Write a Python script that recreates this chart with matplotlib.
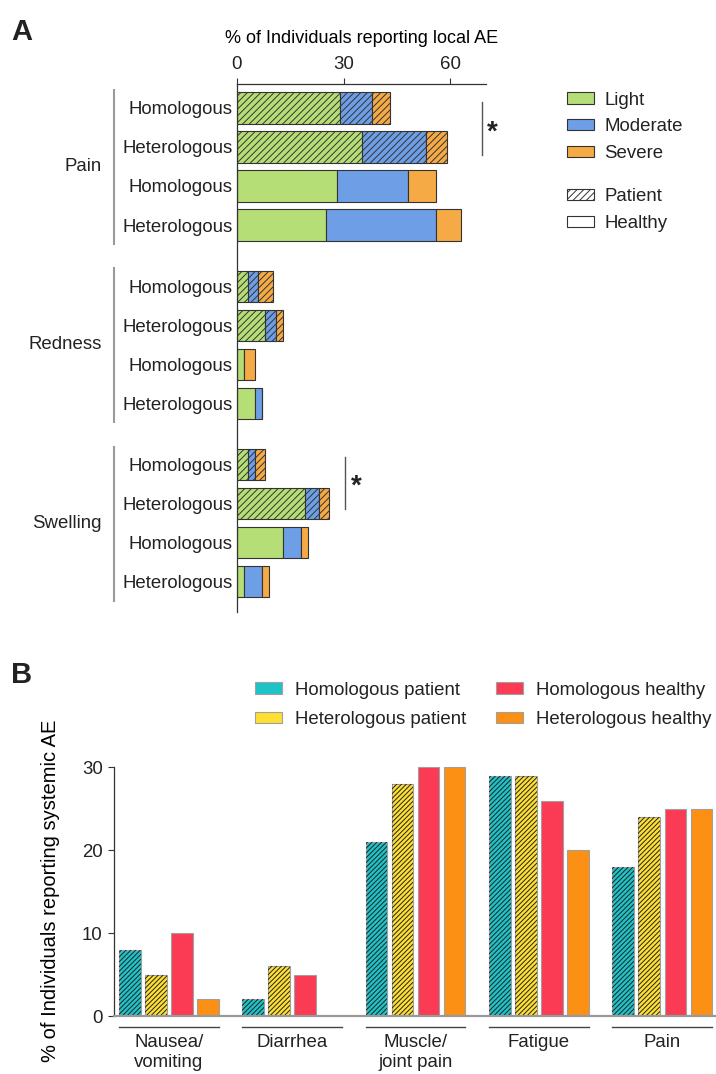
import numpy as np
import matplotlib.pyplot as plt
from matplotlib.patches import Patch
from matplotlib import transforms

plt.rcParams['font.family'] = ['Liberation Sans', 'DejaVu Sans']
plt.rcParams['font.size'] = 13.4
plt.rcParams['text.color'] = '#222222'
plt.rcParams['xtick.color'] = '#333333'
plt.rcParams['ytick.color'] = '#333333'
plt.rcParams['xtick.labelcolor'] = '#222222'
plt.rcParams['ytick.labelcolor'] = '#222222'
plt.rcParams['hatch.linewidth'] = 0.7

# ---- panel A: local adverse events (rows: hom patient, het patient, hom healthy, het healthy)
symptoms = ["Pain", "Redness", "Swelling"]
row_labels = ["Homologous", "Heterologous", "Homologous", "Heterologous"]
patient_rows = [True, True, False, False]
light = [29, 35, 28, 25, 3, 8, 2, 5, 3, 19, 13, 2]
moderate = [9, 18, 20, 31, 3, 3, 0, 2, 2, 4, 5, 5]
severe = [5, 6, 8, 7, 4, 2, 3, 0, 3, 3, 2, 2]
severity_names = ["Light", "Moderate", "Severe"]
severity_colors = ["#b6de76", "#6e9ee6", "#f5aa46"]

# ---- panel B: systemic adverse events
categories = ["Nausea/\nvomiting", "Diarrhea", "Muscle/\njoint pain", "Fatigue", "Pain"]
hom_patient = [8, 2, 21, 29, 18]
het_patient = [5, 6, 28, 29, 24]
hom_healthy = [10, 5, 30, 26, 25]
het_healthy = [2, 0, 30, 20, 25]
group_names = ["Homologous patient", "Heterologous patient",
               "Homologous healthy", "Heterologous healthy"]
group_colors = ["#1ec3c8", "#fedf32", "#fb3a54", "#fb9014"]
group_hatched = [True, True, False, False]

fig = plt.figure(figsize=(7.16, 10.74), dpi=100)

# ================= A =================
axA = fig.add_axes([0.331, 0.4302, 0.3478, 0.4916])
gap = 4.57
ypos = np.array([g * gap + r for g in range(len(symptoms)) for r in range(4)])
pat = np.array([patient_rows[i % 4] for i in range(len(ypos))])

left = np.zeros(len(ypos))
for vals, col in zip([light, moderate, severe], severity_colors):
    vals = np.array(vals, dtype=float)
    axA.barh(ypos[pat], vals[pat], left=left[pat], height=0.8, color=col,
             edgecolor='#333333', linewidth=0.8, hatch='/////')
    axA.barh(ypos[~pat], vals[~pat], left=left[~pat], height=0.8, color=col,
             edgecolor='#333333', linewidth=0.8)
    left += vals

axA.set_xlim(0, 70)
axA.set_ylim(12.92, -0.615)
axA.xaxis.tick_top()
axA.xaxis.set_label_position('top')
axA.set_xticks([0, 30, 60])
axA.tick_params(axis='x', length=4, width=0.8, pad=4)
axA.set_xlabel("% of Individuals reporting local AE", labelpad=9, fontsize=13)
axA.set_yticks(ypos)
axA.set_yticklabels(row_labels * len(symptoms))
axA.tick_params(axis='y', length=0, pad=3)
for s in ['right', 'bottom']:
    axA.spines[s].set_visible(False)
for s in ['top', 'left']:
    axA.spines[s].set_color('#333333')
    axA.spines[s].set_linewidth(0.9)

blend = transforms.blended_transform_factory(axA.transAxes, axA.transData)
for g, name in enumerate(symptoms):
    base = g * gap
    axA.plot([-0.494, -0.494], [base - 0.46, base + 3.49], transform=blend,
             clip_on=False, color='#9a9a9a', lw=1.5)
    axA.text(-0.542, base + 1.5, name, transform=blend, ha='right', va='center')

# significance markers
axA.plot([68.9, 68.9], [-0.16, 1.2], color='#555555', lw=1, clip_on=False)
axA.text(71.9, 0.62, '*', fontsize=20, fontweight='bold', ha='center',
         va='center', clip_on=False)
axA.plot([30.4, 30.4], [2 * gap - 0.2, 2 * gap + 1.15], color='#555555', lw=1, clip_on=False)
axA.text(33.4, 2 * gap + 0.56, '*', fontsize=20, fontweight='bold', ha='center',
         va='center', clip_on=False)

sev_handles = [Patch(facecolor=c, edgecolor='#333333', linewidth=0.8) for c in severity_colors]
legA1 = fig.legend(sev_handles, severity_names, loc='upper left',
                   bbox_to_anchor=(0.792, 0.9147), frameon=False, borderpad=0,
                   borderaxespad=0, handlelength=1.45, handleheight=0.54,
                   handletextpad=0.54, labelspacing=0.52)
pat_handles = [Patch(facecolor='white', edgecolor='#333333', linewidth=0.8, hatch='/////'),
               Patch(facecolor='white', edgecolor='#333333', linewidth=0.8)]
legA2 = fig.legend(pat_handles, ["Patient", "Healthy"], loc='upper left',
                   bbox_to_anchor=(0.792, 0.8247), frameon=False, borderpad=0,
                   borderaxespad=0, handlelength=1.45, handleheight=0.54,
                   handletextpad=0.54, labelspacing=0.52)

fig.text(0.016, 0.983, "A", fontsize=21, fontweight='bold', va='top')

# ================= B =================
axB = fig.add_axes([0.159, 0.054, 0.841, 0.2337])
x = np.arange(len(categories))
step = 0.211
width = 0.174
series = [hom_patient, het_patient, hom_healthy, het_healthy]
for k, (vals, col, hat) in enumerate(zip(series, group_colors, group_hatched)):
    xs = x + (k - 1.5) * step
    axB.bar(xs, vals, width=width, color=col, edgecolor='#a0a0a0', linewidth=0.8)
    if hat:
        axB.bar(xs, vals, width=width, color='none', edgecolor='#222222',
                linewidth=0, hatch='///////')

axB.set_xlim(-0.446, 4.436)
axB.set_ylim(0, 30.3)
axB.set_yticks([0, 10, 20, 30])
axB.spines['left'].set_bounds(0, 30)
axB.spines['left'].set_color('#333333')
axB.spines['left'].set_linewidth(0.9)
axB.spines['bottom'].set_color('#999999')
axB.spines['bottom'].set_linewidth(1.6)
for s in ['right', 'top']:
    axB.spines[s].set_visible(False)
axB.tick_params(axis='y', length=4.3, width=0.8, pad=3.6)
axB.set_xticks([])
axB.set_ylabel("% of Individuals reporting systemic AE", fontsize=14.5)
axB.yaxis.set_label_coords(-0.09, 0.5)

half = 1.5 * step + width / 2
for i, cat in enumerate(categories):
    axB.plot([i - half, i + half], [-1.33, -1.33], color='#444444', lw=1, clip_on=False)
    axB.text(i, -2.2, cat, ha='center', va='top', linespacing=1.2)

grp_handles = [Patch(facecolor=c, edgecolor='#a0a0a0', linewidth=0.8) for c in group_colors]
axB.legend(grp_handles, group_names, ncol=2, loc='upper left',
           bbox_to_anchor=(0.356, 0.3654), bbox_transform=fig.transFigure,
           frameon=False, borderpad=0, borderaxespad=0, handlelength=1.45,
           handleheight=0.54, handletextpad=0.7, labelspacing=0.66,
           columnspacing=1.6)

fig.text(0.016, 0.385, "B", fontsize=21, fontweight='bold', va='top')

fig.savefig("out.png", dpi=100)
